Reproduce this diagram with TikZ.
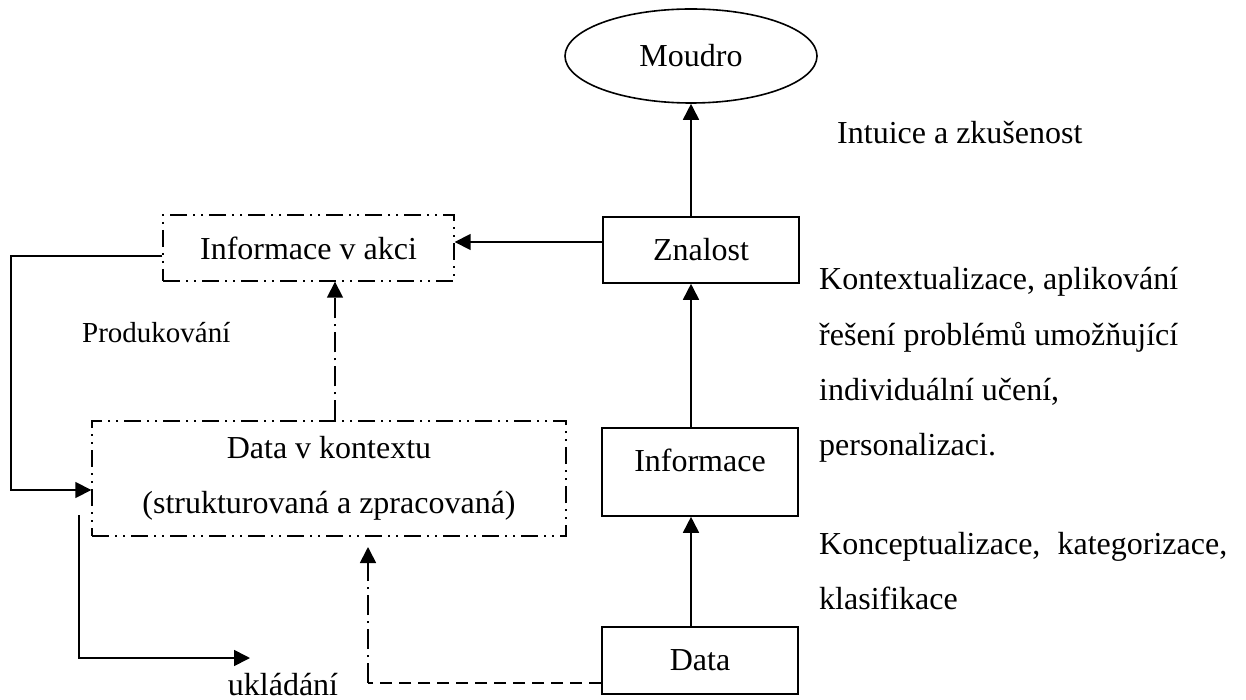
\documentclass[tikz,border=0pt]{standalone}
\usepackage{fontspec}
\setmainfont{Liberation Serif}
\usetikzlibrary{arrows.meta,shapes.geometric}
\begin{document}
\begin{tikzpicture}[x=1pt,y=-1pt,
  every node/.style={font=\fontsize{32}{55}\selectfont, inner sep=0pt},
  solidbox/.style={draw, line width=1.6pt, minimum width=196pt, minimum height=66pt},
  ddbox/.style={draw, line width=1.4pt, dash pattern=on 17pt off 6pt on 2pt off 6pt on 2pt off 6pt},
  arr/.style={line width=1.7pt, -{Triangle[width=16pt,length=16pt]}},
  dashdot/.style={dash pattern=on 20pt off 6pt on 2pt off 6pt},
  dashline/.style={dash pattern=on 12pt off 7pt},
  txt/.style={anchor=base west}]
\useasboundingbox (0,0) rectangle (1246,700);

% main chain
\node[draw, ellipse, line width=1.6pt, minimum width=252pt, minimum height=94pt] (moudro) at (691,56) {Moudro};
\node[solidbox] (znal) at (701,250) {Znalost};
\node[solidbox, minimum height=88pt] (inf) at (700,472) {};
\node (inflabel) at (700,460) {Informace};
\node[solidbox, minimum height=67pt] (data) at (700,660.5) {Data};

% left side boxes
\node[ddbox, minimum width=291pt, minimum height=66pt] (iva) at (308.5,248) {Informace v akci};
\node[ddbox, minimum width=474pt, minimum height=115pt, align=center] (dvk) at (329,478.5)
  {Data v kontextu\\(strukturovaná a zpracovaná)};

% side texts
\node[txt] (intuice) at (837,144) {Intuice a zkušenost};
\node[txt] (k1) at (819,290) {Kontextualizace, aplikování};
\node[txt] (k2) at (819,345) {řešení problémů umožňující};
\node[txt] (k3) at (819,400) {individuální učení,};
\node[txt] (k4) at (819,455) {personalizaci.};
\node[txt] (k5) at (819,554) {\makebox[408pt][l]{Konceptualizace,\hfill kategorizace,}};
\node[txt] (k6) at (819,609) {klasifikace};
\node[txt, font=\fontsize{29}{35}\selectfont] (prod) at (82,342) {Produkování};
\node[anchor=base] (uklad) at (283,695) {ukládání};

% helper points
\coordinate (xa) at (335,0);
\coordinate (prodL) at (11,256);
\coordinate (prodB) at (11,490);
\coordinate (st0) at (79,515);
\coordinate (st1) at (79,658);
\coordinate (st2) at (250,658);
\coordinate (dk) at (368,683);
\coordinate (dtip) at (368,547);

% upward chain
\draw[arr] (znal.north -| moudro.south) -- (moudro.south);
\draw[arr] (inf.north -| moudro.south) -- (znal.south -| moudro.south);
\draw[arr] (data.north -| moudro.south) -- (inf.south -| moudro.south);

% knowledge into action
\draw[arr] ([yshift=8pt]znal.west) -- ([yshift=8pt]znal.west -| iva.east);

% producing loop
\draw[arr] ([yshift=-8pt]iva.west) -- (prodL) -- (prodB) -- (prodB -| dvk.west);

% context to action
\draw[arr, dashdot] (dvk.north -| xa) -- (iva.south -| xa);

% storing
\draw[arr] (st0) -- (st1) -- (st2);

% data into context
\draw[line width=1.6pt, dashline] ([yshift=-22.5pt]data.west) -- (dk);
\draw[arr, dashdot] (dk) -- (dtip);
\end{tikzpicture}
\end{document}
